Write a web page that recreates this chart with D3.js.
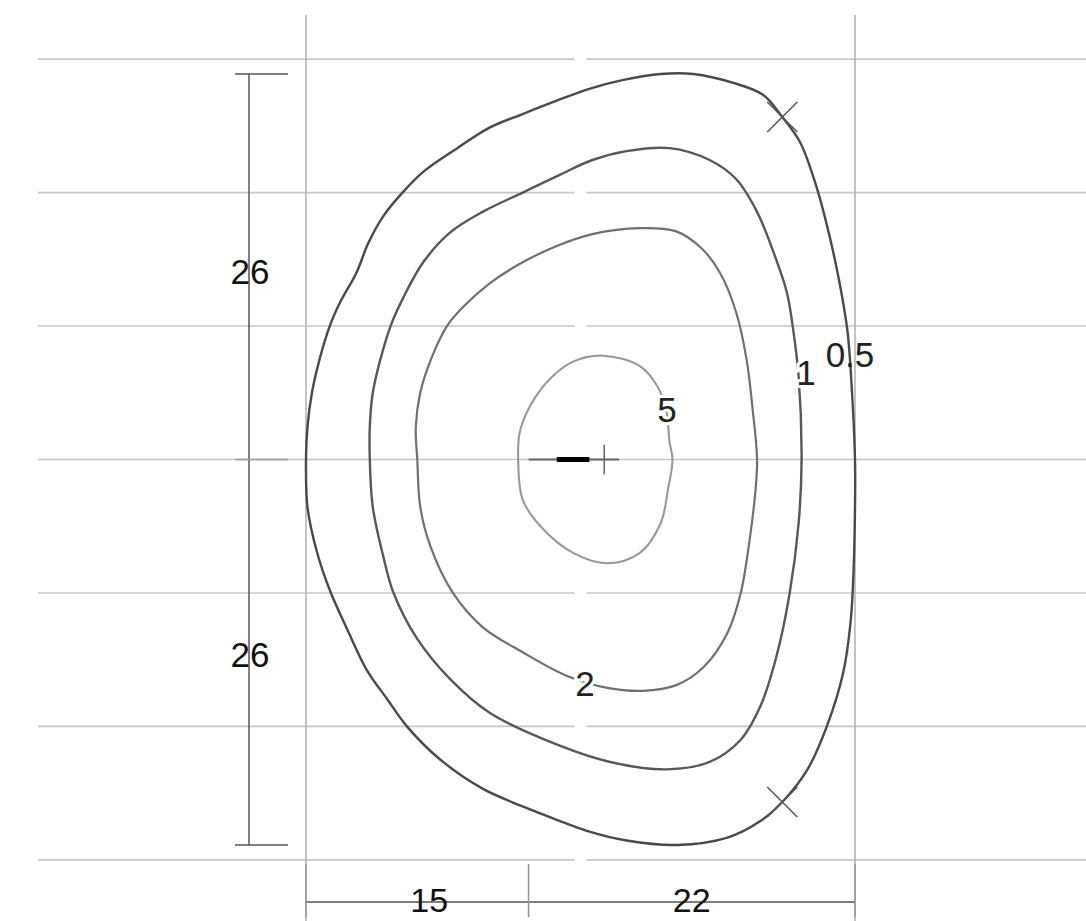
<!DOCTYPE html>
<html><head><meta charset="utf-8">
<script src="https://cdn.jsdelivr.net/npm/d3@7"></script>
<style>
html,body{margin:0;padding:0;background:#fff;}
svg{display:block;font-family:"Liberation Sans",Arial,sans-serif;}
</style></head>
<body><svg id="c" width="1086" height="921"></svg>
<script>
// ---- data (units: cm) ----
const gridY = [-27, -18, -9, 0, 9, 18, 27];
const gridX = [-15, 22];
const dimVertical = [26, 26];
const dimHorizontal = [15, 22];
const levels = ["0.5", "1", "2", "5"];
const contour05 = [[-8.5,18.0],[-7.1,19.4],[-4.8,21.0],[-2.6,22.4],[-0.4,23.3],[1.9,24.2],[4.1,25.0],[6.4,25.6],[8.9,26.0],[11.1,26.0],[13.8,25.4],[15.8,24.6],[17.1,23.1],[18.3,21.4],[19.4,18.4],[20.3,15.0],[21.0,11.7],[21.5,8.6],[21.8,4.5],[22.0,0],[22.0,-3.2],[21.9,-7.6],[21.7,-11.0],[21.2,-14.4],[20.1,-18.0],[18.8,-20.9],[17.1,-23.1],[15.6,-24.4],[13.4,-25.5],[10.0,-26.0],[6.6,-25.7],[4.1,-25.1],[1.9,-24.3],[-0.4,-23.4],[-3.1,-22.2],[-6.0,-20.2],[-8.2,-18.0],[-9.5,-16.2],[-10.9,-14.2],[-12.2,-11.5],[-13.4,-8.8],[-14.3,-6.1],[-14.9,-3.2],[-15.0,0],[-14.9,2.2],[-14.6,4.5],[-14.1,6.7],[-13.4,9.0],[-12.7,10.6],[-11.6,12.6],[-10.8,14.6],[-9.8,16.4]];
const contour1 = [[-8.5,10.8],[-7.1,13.3],[-5.3,15.3],[-3.1,16.7],[-0.4,18.0],[2.1,19.2],[4.3,20.2],[6.6,20.8],[9.5,21.0],[12.2,20.2],[14.0,18.9],[15.4,16.7],[16.5,14.0],[17.4,11.3],[17.8,9.0],[18.2,5.6],[18.4,0],[18.2,-4.3],[17.6,-9.0],[16.7,-13.3],[15.6,-16.7],[14.3,-18.9],[12.2,-20.4],[9.3,-20.9],[5.5,-20.4],[2.1,-19.3],[-2.6,-17.1],[-5.3,-14.8],[-7.5,-12.1],[-9.1,-9.0],[-9.8,-6.5],[-10.5,-3.2],[-10.7,0],[-10.7,2.2],[-10.5,4.5],[-10.0,6.7],[-9.3,9.0]];
const contour2 = [[-5.5,9.0],[-4.4,10.3],[-2.6,11.9],[-0.4,13.3],[1.9,14.4],[4.3,15.2],[7.5,15.6],[9.9,15.4],[11.6,14.3],[12.9,12.6],[14.0,9.9],[14.7,6.7],[15.1,3.4],[15.4,0],[15.3,-2.0],[14.9,-5.4],[14.3,-9.0],[13.4,-11.7],[11.8,-14.0],[10.0,-15.2],[7.7,-15.6],[5.3,-15.4],[2.6,-14.6],[-0.4,-13.0],[-3.1,-11.3],[-5.1,-9.0],[-6.6,-5.9],[-7.3,-3.2],[-7.5,0],[-7.6,2.2],[-7.3,4.5],[-6.6,6.7]];
const contour5 = [[5.0,7.0],[7.5,6.3],[8.7,4.9],[9.3,3.2],[9.5,1.2],[9.7,0],[9.4,-2.0],[8.9,-4.3],[7.5,-6.3],[5.3,-7.0],[3.0,-6.3],[0.8,-4.5],[-0.4,-2.7],[-0.7,0],[-0.6,1.8],[0.1,3.6],[1.4,5.4],[3.0,6.6]];
const labelX = [21.66, 18.7, 3.8, 9.33];
const labelY = [7.1, 5.9, -15.1, 3.4];
const crossX = [17.1, 17.1];
const crossY = [23.1, -23.1];
const markerThin = [0, 6.1];
const markerThick = [1.9, 4.1];
const markerTick = 5.1;
const gridGap = [3.1, 3.9];

// ---- scales ----
const x = d3.scaleLinear().domain([-15, 22]).range([306, 855]);
const y = d3.scaleLinear().domain([-26, 26]).range([845, 74]);
const svg = d3.select("#c");

// ---- grid ----
const g = svg.append("g");
gridY.forEach(v => {
  g.append("line").attr("x1", 38).attr("x2", x(gridGap[0])).attr("y1", y(v)).attr("y2", y(v))
    .attr("stroke", "#c6c6c6").attr("stroke-width", 1.6);
  g.append("line").attr("x1", x(gridGap[1])).attr("x2", 1086).attr("y1", y(v)).attr("y2", y(v))
    .attr("stroke", "#c6c6c6").attr("stroke-width", 1.6);
});
gridX.forEach(v => {
  g.append("line").attr("x1", x(v)).attr("x2", x(v)).attr("y1", 15).attr("y2", 921)
    .attr("stroke", "#b4b4b4").attr("stroke-width", 1.6);
});

// ---- dimension lines ----
const dimC = "#555";
const vx = x(-15) - 57;
g.append("line").attr("x1", vx).attr("x2", vx).attr("y1", y(dimVertical[0])).attr("y2", y(-dimVertical[1]))
  .attr("stroke", dimC).attr("stroke-width", 1.5);
[dimVertical[0], 0, -dimVertical[1]].forEach(v => {
  g.append("line").attr("x1", vx - 14).attr("x2", vx + 39).attr("y1", y(v)).attr("y2", y(v))
    .attr("stroke", v === 0 ? "#999" : dimC).attr("stroke-width", 1.5);
});
g.append("text").attr("x", vx + 1).attr("y", (y(dimVertical[0]) + y(0)) / 2 + 5).attr("dy", "0.36em")
  .attr("text-anchor", "middle").attr("font-size", 35).attr("fill", "#111").text(dimVertical[0]);
g.append("text").attr("x", vx + 1).attr("y", (y(0) + y(-dimVertical[1])) / 2 + 2).attr("dy", "0.36em")
  .attr("text-anchor", "middle").attr("font-size", 35).attr("fill", "#111").text(dimVertical[1]);

const hy = 902;
g.append("line").attr("x1", x(-dimHorizontal[0])).attr("x2", x(dimHorizontal[1])).attr("y1", hy).attr("y2", hy)
  .attr("stroke", dimC).attr("stroke-width", 1.5);
[-dimHorizontal[0], 0, dimHorizontal[1]].forEach(v => {
  g.append("line").attr("x1", x(v)).attr("x2", x(v)).attr("y1", 864).attr("y2", 917)
    .attr("stroke", "#999").attr("stroke-width", 1.6);
});
g.append("text").attr("x", (x(-dimHorizontal[0]) + x(0)) / 2 + 12).attr("y", 912)
  .attr("text-anchor", "middle").attr("font-size", 34).attr("fill", "#111").text(dimHorizontal[0]);
g.append("text").attr("x", (x(0) + x(dimHorizontal[1])) / 2).attr("y", 912)
  .attr("text-anchor", "middle").attr("font-size", 34).attr("fill", "#111").text(dimHorizontal[1]);

// ---- contours ----
const line = d3.line().x(d => x(d[0])).y(d => y(d[1])).curve(d3.curveCatmullRomClosed.alpha(0.5));
const contours = [contour05, contour1, contour2, contour5];
const colors = ["#4a4a4a", "#585858", "#707070", "#999999"];
const widths = [2.4, 2.4, 2.2, 2.1];
contours.forEach((c, i) => {
  svg.append("path").attr("d", line(c)).attr("fill", "none")
    .attr("stroke", colors[i]).attr("stroke-width", widths[i]);
});

// ---- crosses on outer contour ----
crossX.forEach((cx, i) => {
  const px = x(cx), py = y(crossY[i]), r = 15;
  svg.append("line").attr("x1", px - r).attr("y1", py - r).attr("x2", px + r).attr("y2", py + r)
    .attr("stroke", "#555").attr("stroke-width", 1.5);
  svg.append("line").attr("x1", px - r).attr("y1", py + r).attr("x2", px + r).attr("y2", py - r)
    .attr("stroke", "#555").attr("stroke-width", 1.5);
});

// ---- centre marker ----
svg.append("line").attr("x1", x(markerThin[0])).attr("x2", x(markerThin[1])).attr("y1", y(0)).attr("y2", y(0))
  .attr("stroke", "#666").attr("stroke-width", 2);
svg.append("line").attr("x1", x(markerThick[0])).attr("x2", x(markerThick[1])).attr("y1", y(0)).attr("y2", y(0))
  .attr("stroke", "#000").attr("stroke-width", 5);
svg.append("line").attr("x1", x(markerTick)).attr("x2", x(markerTick)).attr("y1", y(1)).attr("y2", y(-1))
  .attr("stroke", "#666").attr("stroke-width", 1.5);

// ---- contour labels ----
levels.forEach((lv, i) => {
  const t = svg.append("text").attr("x", x(labelX[i])).attr("y", y(labelY[i])).attr("dy", "0.36em")
    .attr("text-anchor", "middle").attr("font-size", 35).attr("fill", "#222").text(lv);
  if (lv !== "0.5") t.attr("stroke", "#fff").attr("stroke-width", 6).attr("paint-order", "stroke");
});
</script></body></html>
